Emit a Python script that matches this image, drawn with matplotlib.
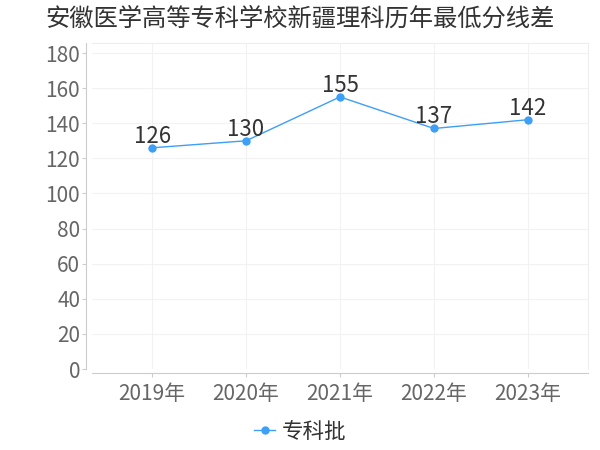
import matplotlib
matplotlib.use("Agg")
import matplotlib.pyplot as plt

plt.rcParams['font.family'] = ['Noto Sans CJK SC', 'DejaVu Sans']

# data
years = ["2019年", "2020年", "2021年", "2022年", "2023年"]
scores = [126, 130, 155, 137, 142]
series_name = "专科批"
title = "安徽医学高等专科学校新疆理科历年最低分线差"

line_color = "#3d9ff5"

fig = plt.figure(figsize=(6, 4.5), dpi=100)
ax = fig.add_axes([92 / 600, 1 - 369 / 450, 496 / 600, 326 / 450])

x = list(range(len(years)))
ax.plot(x, scores, color=line_color, linewidth=1, marker="o", markersize=5,
        label=series_name, zorder=3)

for xi, v in zip(x, scores):
    ax.annotate(str(v), (xi, v), textcoords="offset points", xytext=(0, 0),
                ha="center", va="bottom", fontsize=16, color="#333333")

ax.set_xlim(-0.64, 4.64)
ax.set_ylim(0, 185.7)
ax.set_yticks(range(0, 181, 20))
ax.set_xticks(x)
ax.set_xticklabels(years)

ax.grid(True, color="#f2f2f2", linewidth=0.8)
ax.set_axisbelow(True)

for s in ["top", "right"]:
    ax.spines[s].set_color("#eeeeee")
    ax.spines[s].set_linewidth(0.8)
ax.spines["left"].set_position(("outward", 4))
ax.spines["bottom"].set_position(("outward", 3))
ax.spines["left"].set_color("#cccccc")
ax.spines["bottom"].set_color("#cccccc")

ax.tick_params(axis="both", colors="#cccccc", labelcolor="#666666",
               labelsize=15, length=3)
ax.tick_params(axis="y", pad=1.5)
ax.tick_params(axis="x", pad=4)

fig.text(0.5, 0.958, title, ha="center", va="center", fontsize=17.5, color="#333333")

fig.legend(loc="center", bbox_to_anchor=(0.5, 0.04), frameon=False,
           fontsize=15.5, handlelength=1.0, handletextpad=0.3, labelcolor="#333333")

fig.savefig("out.png", dpi=100)
